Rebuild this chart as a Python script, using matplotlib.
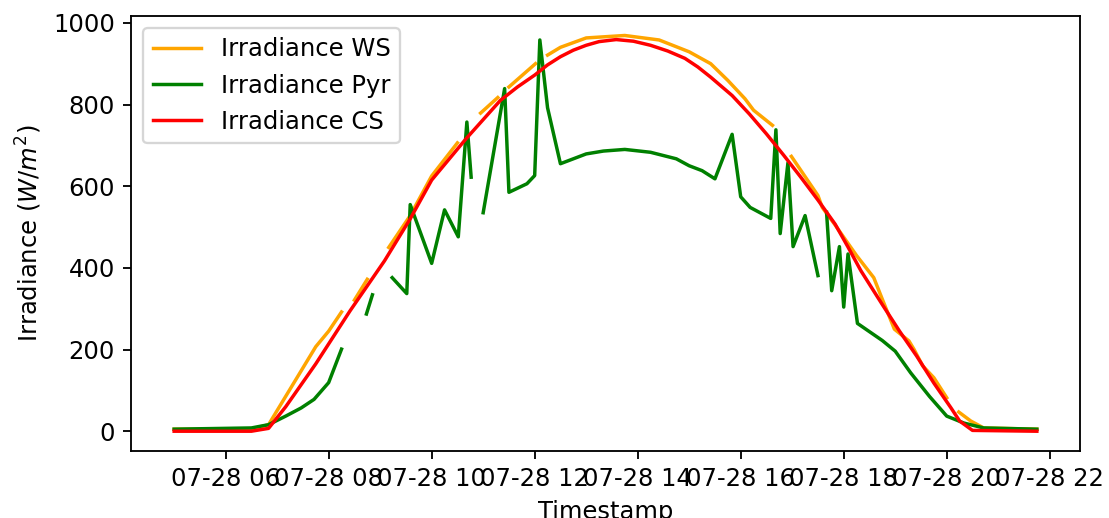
import numpy as np
import pandas as pd
import matplotlib
matplotlib.use("Agg")
import matplotlib.pyplot as plt

plt.rcParams["font.size"] = 10.5

day = "2019-07-28"
nan = np.nan

# Weather-station irradiance (gaps = missing records)
ws_times = ["05:00", "06:30", "06:50", "07:45", "08:00", "08:15", "08:20",
            "08:30", "08:45", "08:55", "09:10", "09:35", "10:00", "10:30",
            "10:40", "10:57", "11:17", "11:22", "11:30", "12:01", "12:07",
            "12:15", "12:30", "13:00", "13:45", "14:25", "15:00", "15:25",
            "15:45", "16:05", "16:15", "16:37", "16:45", "16:59", "17:30",
            "17:35", "17:50", "18:15", "18:35", "18:45", "18:59", "19:16",
            "19:22", "19:32", "19:45", "20:00", "20:05", "20:14", "20:28",
            "20:43", "21:45"]
ws_values = [5, 5, 16, 207, 245, 292, nan,
             321, 372, nan, 450, 528, 625, 706,
             nan, 779, 817, nan, 843, 900, nan,
             921, 940, 963, 969, 958, 929, 900,
             859, 814, 786, 749, nan, 673, 577,
             548, 505, 430, 376, 323, 250, 221,
             200, 160, 131, 82, nan, 47, 25,
             8, 5]

# Pyranometer irradiance
pyr_times = ["05:00", "06:30", "06:50", "07:10", "07:28", "07:43", "08:00",
             "08:15", "08:30", "08:44", "08:51", "09:00", "09:14", "09:31",
             "09:35", "10:00", "10:15", "10:31", "10:41", "10:46", "10:52",
             "11:00", "11:25", "11:30", "11:51", "12:00", "12:06", "12:15",
             "12:30", "13:00", "13:20", "13:45", "14:15", "14:45", "15:00",
             "15:15", "15:30", "15:50", "16:00", "16:11", "16:35", "16:41",
             "16:46", "16:55", "17:01", "17:15", "17:30", "17:35", "17:40",
             "17:46", "17:55", "18:00", "18:05", "18:16", "18:45", "19:00",
             "19:18", "19:40", "20:00", "20:20", "20:43", "21:45"]
pyr_values = [5, 8, 16, 37, 57, 78, 119,
              201, nan, 287, 334, nan, 376, 337,
              555, 411, 542, 476, 757, 622, nan,
              535, 839, 585, 606, 626, 958, 792,
              655, 679, 686, 690, 683, 667, 650,
              638, 618, 727, 574, 548, 521, 738,
              484, 657, 452, 528, 381, nan, 536,
              344, 452, 304, 434, 264, 222, 196,
              143, 85, 37, 20, 8, 5]

# Clear-sky model irradiance
cs_times = ["05:00", "06:30", "06:50", "07:10", "07:45", "08:25", "09:05",
            "09:35", "10:00", "10:40", "11:20", "11:40", "12:00", "12:15",
            "12:30", "12:45", "13:00", "13:15", "13:35", "13:55", "14:15",
            "14:35", "14:55", "15:10", "15:25", "15:50", "16:10", "16:30",
            "16:50", "17:10", "17:30", "17:50", "18:05", "18:20", "18:45",
            "19:05", "19:25", "19:45", "20:05", "20:15", "20:30", "21:45"]
cs_values = [0, 0, 7, 60, 165, 295, 417,
             520, 615, 716, 810, 843, 872, 897,
             917, 933, 945, 954, 959, 955, 945,
             931, 913, 892, 867, 822, 777, 728,
             676, 622, 566, 507, 451, 393, 310,
             245, 184, 118, 57, 25, 2, 0]


def stamps(times):
    return pd.to_datetime([f"{day} {t}" for t in times]).to_numpy()


fig, ax = plt.subplots(figsize=(1109 / 166, 518 / 166), dpi=166)
ax.plot(stamps(ws_times), ws_values, color="orange", label="Irradiance WS")
ax.plot(stamps(pyr_times), pyr_values, color="green", label="Irradiance Pyr")
ax.plot(stamps(cs_times), cs_values, color="red", label="Irradiance CS")

ax.set_xlabel("Timestamp")
ax.set_ylabel(r"Irradiance ($W/m^2$)")
ax.legend(loc="upper left")

fig.subplots_adjust(left=131 / 1109, right=1080 / 1109,
                    top=1 - 15.7 / 518, bottom=1 - 451 / 518)
fig.savefig("out.png", dpi=166)
